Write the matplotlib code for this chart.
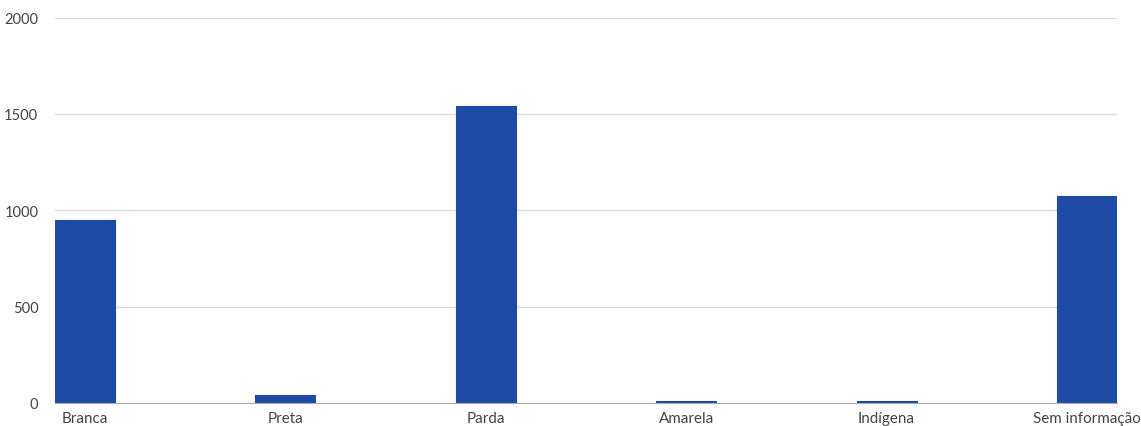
import matplotlib.pyplot as plt

categories = ["Branca", "Preta", "Parda", "Amarela", "Indígena", "Sem informação"]
values = [952, 40, 1542, 11, 11, 1076]
y_ticks = [0, 500, 1000, 1500, 2000]

plt.rcParams['font.family'] = ['Lato', 'DejaVu Sans']

fig = plt.figure(figsize=(11.41, 4.27), dpi=100)
ax = fig.add_axes([55 / 1141, 1 - 404 / 427, 1062 / 1141, (404 - 18.5) / 427])

x = list(range(len(categories)))
ax.bar(x, values, 0.3, color="#1f4ba6", edgecolor="#1f4ba6", linewidth=0.8,
       joinstyle="round", zorder=3)

ax.set_xlim(-0.15, 5.15)
ax.set_ylim(0, 2000)
ax.set_xticks(x)
ax.set_xticklabels(categories, fontsize=10.9)
ax.set_yticks(y_ticks)
ax.tick_params(axis="both", length=0, labelsize=10.5, labelcolor="#444444")
ax.tick_params(axis="x", pad=6, labelsize=10.9)
ax.tick_params(axis="y", pad=12)
ax.grid(axis="y", color="#dddddd", linewidth=1, zorder=0)
ax.set_axisbelow(True)

for side in ["top", "right", "left"]:
    ax.spines[side].set_visible(False)
ax.spines["bottom"].set_color("#aaaaaa")
ax.spines["bottom"].set_zorder(4)

fig.savefig("out.png", dpi=100)
